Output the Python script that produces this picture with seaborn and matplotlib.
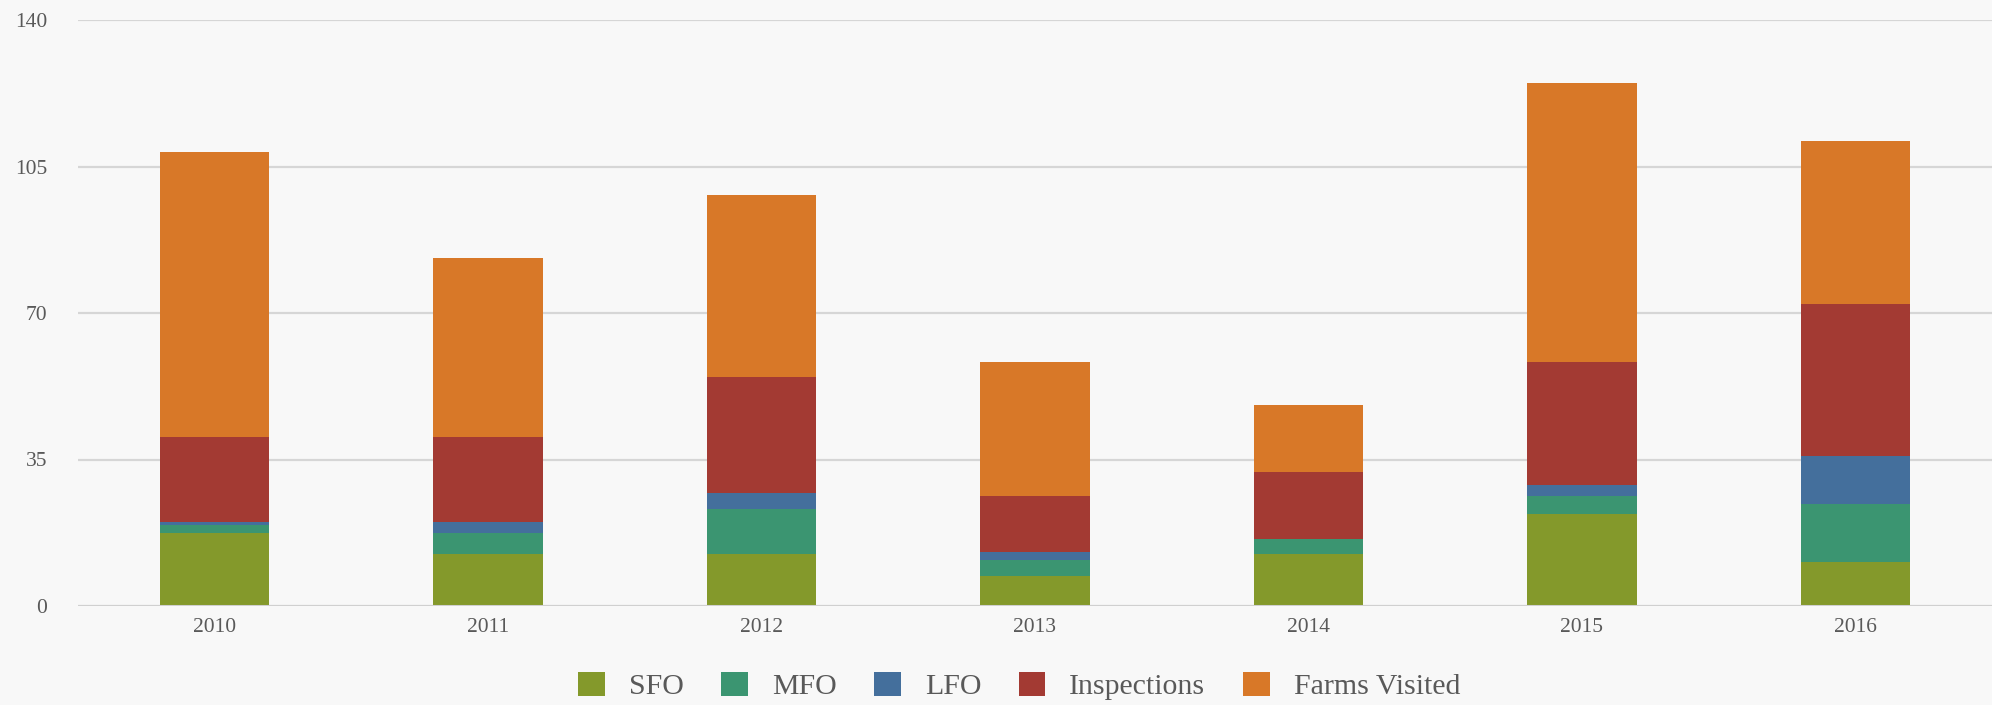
import numpy as np
import pandas as pd
import seaborn as sns
import matplotlib.pyplot as plt
from matplotlib.patches import Patch

# values
years = ['2010', '2011', '2012', '2013', '2014', '2015', '2016']
sfo = [17.4, 12.4, 12.4, 7.2, 12.4, 22.0, 10.5]
mfo = [2.0, 5.0, 10.8, 3.8, 3.6, 4.3, 13.9]
lfo = [0.7, 2.7, 3.8, 2.0, 0.0, 2.6, 11.4]
inspections = [20.3, 20.3, 27.7, 13.3, 16.0, 29.4, 36.4]
farms_visited = [68.1, 42.7, 43.6, 32.0, 16.0, 66.7, 38.9]

series = ['SFO', 'MFO', 'LFO', 'Inspections', 'Farms Visited']
colors = ['#84992b', '#3b9571', '#446f9c', '#a33a33', '#d87828']

df = pd.DataFrame({'year': years, 'SFO': sfo, 'MFO': mfo, 'LFO': lfo,
                   'Inspections': inspections, 'Farms Visited': farms_visited})
# running totals so overlapping bars look stacked
cum = df[series].cumsum(axis=1)
cum['year'] = df['year']

sns.set_theme(style='white')
plt.rcParams['font.family'] = ['Liberation Serif', 'DejaVu Serif']

fig = plt.figure(figsize=(19.92, 7.05), dpi=100)
fig.patch.set_facecolor('#f8f8f8')
ax = fig.add_axes([78 / 1992, 99 / 705, 1 - 78 / 1992, 586 / 705])
ax.set_facecolor('#f8f8f8')

# tallest layer first, then each lower layer on top of it
for name, col in reversed(list(zip(series, colors))):
    sns.barplot(data=cum, x='year', y=name, order=years, color=col,
                saturation=1, width=0.4, errorbar=None, ax=ax,
                linewidth=0, zorder=3)

ax.set_xlim(-0.5, 6.5)
ax.set_ylim(0, 140)
ax.set_yticks([0, 35, 70, 105, 140])
ax.yaxis.grid(True, color='#d6d6d6', linewidth=1.6, zorder=0)
ax.set_axisbelow(True)
ax.axhline(0, color='#d0d0d0', linewidth=2.2, zorder=4)
for s in ax.spines.values():
    s.set_visible(False)
ax.set_xlabel('')
ax.set_ylabel('')
ax.tick_params(axis='both', length=0, labelsize=15.5, labelcolor='#595959')
ax.tick_params(axis='y', pad=22)
ax.tick_params(axis='x', pad=9)
for lab in ax.get_yticklabels():
    lab.set_horizontalalignment('right')

handles = [Patch(facecolor=c, edgecolor='none', label=n) for n, c in zip(series, colors)]
fig.legend(handles=handles, loc='center', bbox_to_anchor=(1019 / 1992, 19 / 705),
           ncol=5, frameon=False, fontsize=21.5, labelcolor='#595959',
           handlelength=0.9, handleheight=0.9, handletextpad=0.8,
           columnspacing=1.25, borderpad=0)

fig.savefig('out.png', dpi=100, facecolor=fig.get_facecolor())
